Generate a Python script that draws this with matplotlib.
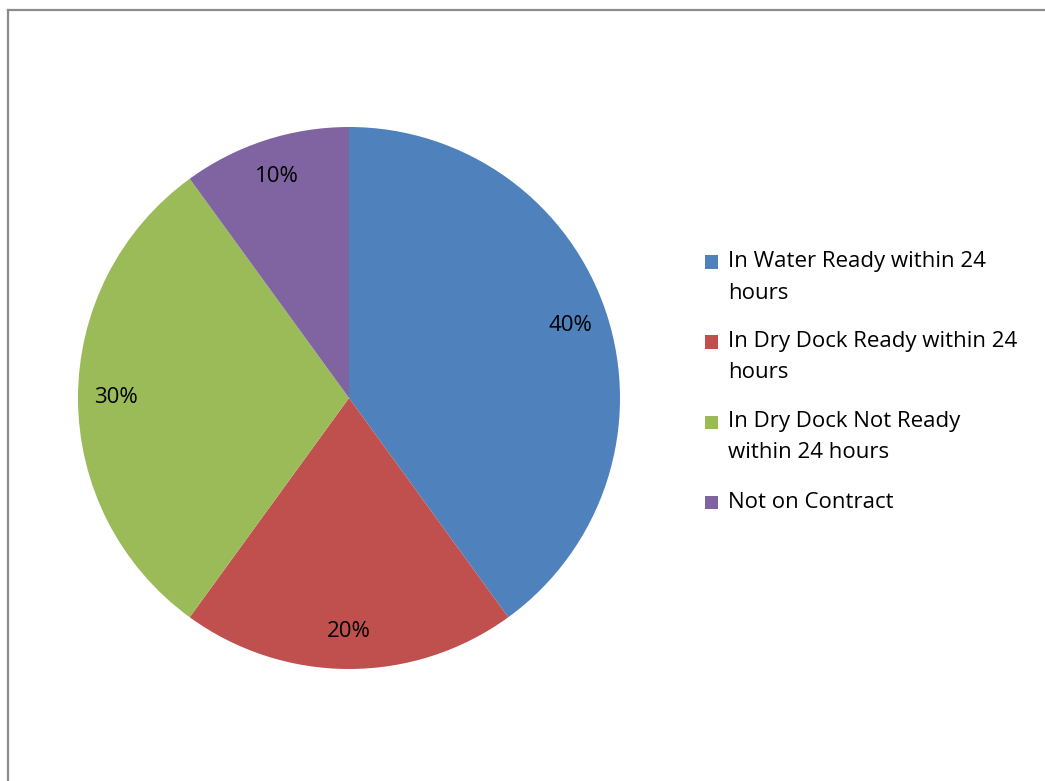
import matplotlib.pyplot as plt
from matplotlib.lines import Line2D
from matplotlib.patches import Rectangle

# --- data ---
categories = [
    "In Water Ready within 24\nhours",
    "In Dry Dock Ready within 24\nhours",
    "In Dry Dock Not Ready\nwithin 24 hours",
    "Not on Contract",
]
shares = [40, 20, 30, 10]
colors = ["#4F81BD", "#C0504D", "#9BBB59", "#8064A2"]

W, H = 1045, 781
plt.rcParams['font.family'] = ['Open Sans', 'DejaVu Sans']

fig = plt.figure(figsize=(W / 100, H / 100), dpi=100)
fig.patch.set_facecolor("white")

# pie: centre (349, 398) px, radius 271 px
cx, cy, r = 349, 398, 271
ax = fig.add_axes([(cx - r) / W, (H - cy - r) / H, 2 * r / W, 2 * r / H])
ax.pie(shares, colors=colors, startangle=90, counterclock=False,
       autopct="%d%%", pctdistance=0.86, radius=1,
       wedgeprops=dict(linewidth=0),
       textprops=dict(fontsize=16, color="black"))
ax.set_xlim(-1, 1)
ax.set_ylim(-1, 1)
ax.set_aspect("equal")
ax.axis("off")

# chart border (top and left edges visible, rest runs off the image)
border = "#8c8c8c"
fig.add_artist(Line2D([8 / W, 1.0], [1 - 9.5 / H, 1 - 9.5 / H], color=border, lw=1.6))
fig.add_artist(Line2D([8 / W, 8 / W], [0, 1 - 9.5 / H], color=border, lw=1.6))

# legend drawn by hand so the swatch sits on the first text line
x_box, x_txt = 705, 728
y0, item_gap, line_gap = 262, 80, 31
for i, (lab, col) in enumerate(zip(categories, colors)):
    y = y0 + i * item_gap
    fig.add_artist(Rectangle((x_box / W, 1 - (y + 6.5) / H), 13 / W, 13 / H,
                             transform=fig.transFigure, facecolor=col, edgecolor="none"))
    for j, line in enumerate(lab.split("\n")):
        fig.text(x_txt / W, 1 - (y + j * line_gap) / H, line, fontsize=16,
                 va="center", ha="left", color="black")

fig.savefig("out.png", dpi=100, facecolor="white")
